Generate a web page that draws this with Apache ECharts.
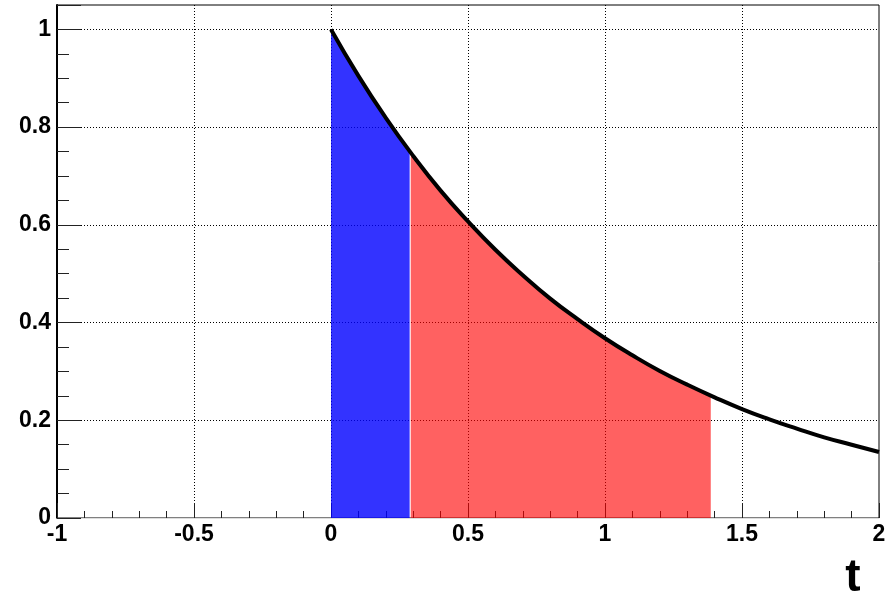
<!DOCTYPE html>
<html>
<head>
<meta charset="utf-8">
<script src="https://cdn.jsdelivr.net/npm/echarts@6/dist/echarts.min.js"></script>
<style>
html,body{margin:0;padding:0;background:#fff;}
#chart{width:889px;height:593px;}
</style>
</head>
<body>
<div id="chart"></div>
<script>
// Curve values (t, value)
const curveT = [0, 0.1, 0.2, 0.3, 0.4, 0.5, 0.6, 0.7, 0.8, 0.9, 1.0, 1.1, 1.2, 1.3, 1.4, 1.5, 1.6, 1.7, 1.8, 1.9, 2.0];
const curveY = [1.00, 0.905, 0.819, 0.741, 0.670, 0.607, 0.549, 0.497, 0.449, 0.407, 0.368, 0.333, 0.301, 0.273, 0.247, 0.223, 0.202, 0.183, 0.165, 0.150, 0.135];
// Blue shaded region
const blueT = [0, 0.1, 0.2, 0.287];
const blueY = [1.00, 0.905, 0.819, 0.750];
// Red shaded region
const redT = [0.291, 0.3, 0.4, 0.5, 0.6, 0.7, 0.8, 0.9, 1.0, 1.1, 1.2, 1.3, 1.386];
const redY = [0.747, 0.741, 0.670, 0.607, 0.549, 0.497, 0.449, 0.407, 0.368, 0.333, 0.301, 0.273, 0.250];
const xTitle = 't';

function pairs(xs, ys) { return xs.map((x, i) => [x, ys[i]]); }

const FONT = 'Liberation Sans, Arial, Helvetica, sans-serif';
const chart = echarts.init(document.getElementById('chart'), null, { renderer: 'canvas' });

chart.setOption({
  animation: false,
  backgroundColor: '#ffffff',
  grid: {
    left: 57, right: 10, top: 5, bottom: 75,
    containLabel: false, outerBoundsMode: 'none',
    show: true, borderColor: '#000', borderWidth: 1, backgroundColor: 'transparent'
  },
  xAxis: {
    type: 'value', min: -1, max: 2, interval: 0.5,
    name: xTitle, nameLocation: 'end', nameGap: -26,
    nameTextStyle: { fontFamily: FONT, fontWeight: 'bold', fontSize: 46, color: '#000',
      align: 'center', verticalAlign: 'top', padding: [37, 0, 0, 0] },
    axisLine: { show: true, onZero: false, lineStyle: { color: '#dddddd', width: 1 } },
    axisTick: { show: true, inside: true, length: 15, lineStyle: { color: '#222', width: 1 } },
    minorTick: { show: true, splitNumber: 5, length: 7, lineStyle: { color: '#222', width: 1 } },
    axisLabel: { fontFamily: FONT, fontWeight: 'bold', fontSize: 23, color: '#000', margin: 5,
      formatter: v => String(v) },
    splitLine: { show: true, showMinLine: false, showMaxLine: false,
      lineStyle: { color: '#000', width: 1, type: [1, 2] } }
  },
  yAxis: {
    type: 'value', min: 0, max: 1.05, interval: 0.2,
    axisLine: { show: true, onZero: false, lineStyle: { color: '#000', width: 2 } },
    axisTick: { show: true, inside: true, length: 24, lineStyle: { color: '#222', width: 1 } },
    minorTick: { show: true, splitNumber: 4, length: 12, lineStyle: { color: '#222', width: 1 } },
    axisLabel: { fontFamily: FONT, fontWeight: 'bold', fontSize: 23, color: '#000', margin: 6,
      showMaxLabel: false,
      formatter: v => (Math.abs(v - Math.round(v * 5) / 5) < 1e-9 ? String(Math.round(v * 10) / 10) : '') },
    splitLine: { show: true, showMinLine: false, showMaxLine: false,
      lineStyle: { color: '#000', width: 1, type: [1, 2] } }
  },
  series: [
    {
      type: 'line', data: pairs(blueT, blueY), symbol: 'none', z: 2,
      lineStyle: { width: 0 },
      areaStyle: { color: 'rgba(0,0,255,0.8)', opacity: 1, origin: 'start' }
    },
    {
      type: 'line', data: pairs(redT, redY), symbol: 'none', z: 2,
      lineStyle: { width: 0 },
      areaStyle: { color: 'rgba(255,0,0,0.62)', opacity: 1, origin: 'start' }
    },
    {
      type: 'line', data: pairs(curveT, curveY), symbol: 'none', smooth: true, z: 3,
      lineStyle: { color: '#000', width: 4 }
    }
  ]
});
</script>
</body>
</html>
